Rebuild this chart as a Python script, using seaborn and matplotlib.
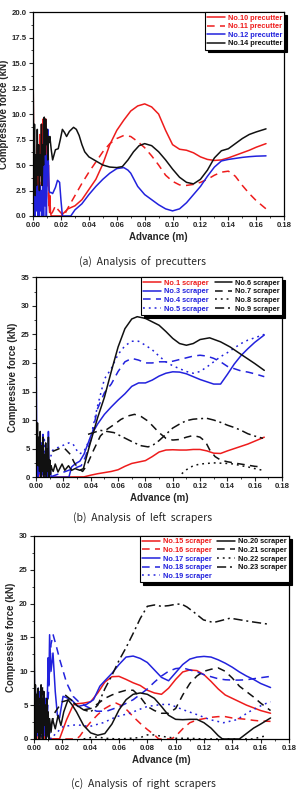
import matplotlib
matplotlib.use("Agg")
import matplotlib.pyplot as plt
import seaborn as sns
from matplotlib.ticker import AutoMinorLocator, FormatStrFormatter, MultipleLocator

# colours / line styles
RED = "#ee1c1c"
BLUE = "#2222dd"
BLACK = "#111111"
SOLID = "-"
DASH = (0, (5, 3.5))
DOT = (0, (1.2, 2.6))
DASHDOT = (0, (6, 2.5, 1.3, 2.5))

# ---------------- (a) precutters ----------------
a10_x = [0, 0.0005, 0.001, 0.0015, 0.002, 0.0025, 0.003, 0.0035, 0.004, 0.0045, 0.005, 0.0055, 0.006, 0.0065,
         0.007, 0.0075, 0.008, 0.0085, 0.009, 0.0095, 0.01, 0.0105, 0.011, 0.0115, 0.012, 0.0125, 0.013, 0.02,
         0.022, 0.025, 0.03, 0.035, 0.04, 0.045, 0.05, 0.055, 0.06, 0.065, 0.07, 0.075, 0.08, 0.085, 0.09, 0.095,
         0.1, 0.105, 0.11, 0.115, 0.12, 0.125, 0.13, 0.135, 0.14, 0.145, 0.15, 0.155, 0.16, 0.167]
a10_y = [14.5, 3.0, 6.0, 1.5, 5.5, 2.5, 7.0, 3.0, 6.5, 2.0, 8.0, 4.0, 9.0, 3.5,
         9.5, 5.0, 9.3, 6.0, 9.5, 5.5, 8.0, 3.0, 5.0, 1.0, 2.0, 0.3, 0, 0,
         0.3, 0.7, 1.0, 1.6, 2.6, 3.6, 5.1, 7.0, 8.4, 9.4, 10.3, 10.8, 11.0, 10.7, 10.0, 8.4,
         7.0, 6.55, 6.45, 6.2, 5.8, 5.55, 5.45, 5.5, 5.7, 5.95, 6.2, 6.45, 6.75, 7.1]

a11_x = [0, 0.0005, 0.001, 0.0015, 0.002, 0.003, 0.004, 0.005, 0.006, 0.007, 0.008, 0.009, 0.0095, 0.01,
         0.011, 0.012, 0.014, 0.016, 0.018, 0.02, 0.022, 0.025, 0.03, 0.035, 0.04, 0.045, 0.05, 0.055,
         0.06, 0.065, 0.07, 0.075, 0.08, 0.085, 0.09, 0.095, 0.1, 0.105, 0.11, 0.115, 0.12, 0.125, 0.13,
         0.135, 0.14, 0.145, 0.15, 0.155, 0.16, 0.167]
a11_y = [1.0, 6.0, 0.5, 4.0, 2.0, 6.5, 1.5, 7.5, 3.0, 9.0, 4.5, 9.5, 6.0, 8.5,
         2.0, 0.0, 0.4, 1.0, 0.6, 0.3, 0.0, 0.8, 2.0, 3.2, 4.3, 5.3, 6.3, 7.1,
         7.6, 7.9, 7.8, 7.3, 6.7, 5.9, 5.0, 4.0, 3.4, 3.05, 3.0, 3.1, 3.3, 3.6, 4.0,
         4.3, 4.4, 3.9, 3.0, 2.2, 1.5, 0.7]

a12_x = [0, 0.0005, 0.001, 0.0015, 0.002, 0.0025, 0.003, 0.0035, 0.004, 0.0045, 0.005, 0.0055, 0.006, 0.0065,
         0.007, 0.0075, 0.008, 0.0085, 0.009, 0.0095, 0.01, 0.0105, 0.011, 0.0115, 0.012, 0.013, 0.014, 0.016,
         0.0175, 0.019, 0.02, 0.021, 0.027, 0.03, 0.035, 0.04, 0.045, 0.05, 0.055, 0.06, 0.065, 0.068, 0.07,
         0.075, 0.08, 0.085, 0.09, 0.095, 0.1, 0.105, 0.11, 0.115, 0.12, 0.125, 0.13, 0.135, 0.14, 0.145,
         0.15, 0.155, 0.16, 0.167]
a12_y = [6.0, 1.0, 5.0, 0.0, 4.0, 0.5, 3.0, 0.0, 2.5, 0.0, 3.0, 0.5, 2.5, 0.0,
         5.0, 0.0, 8.0, 1.0, 6.0, 0.0, 3.0, 8.5, 5.0, 2.5, 2.3, 2.3, 2.2, 2.8,
         3.5, 3.3, 1.5, 0.0, 0.0, 0.6, 1.2, 2.1, 2.9, 3.6, 4.2, 4.65, 4.75, 4.5, 4.2,
         2.9, 2.1, 1.6, 1.1, 0.7, 0.5, 0.7, 1.3, 2.1, 2.9, 3.9, 4.8, 5.4, 5.55, 5.65,
         5.75, 5.82, 5.87, 5.9]

a14_x = [0, 0.0005, 0.001, 0.0015, 0.002, 0.0025, 0.003, 0.0035, 0.004, 0.0045, 0.005, 0.0055, 0.006, 0.0065,
         0.007, 0.0075, 0.008, 0.0085, 0.009, 0.0095, 0.01, 0.0105, 0.011, 0.0115, 0.012, 0.013, 0.014, 0.016,
         0.018, 0.0195, 0.021, 0.0225, 0.024, 0.026, 0.029, 0.031, 0.033, 0.035, 0.037, 0.04, 0.045, 0.05,
         0.055, 0.06, 0.064, 0.068, 0.072, 0.076, 0.08, 0.085, 0.09, 0.095, 0.1, 0.105, 0.11, 0.115, 0.12,
         0.125, 0.13, 0.135, 0.14, 0.145, 0.15, 0.155, 0.16, 0.167]
a14_y = [14.0, 4.0, 9.0, 2.0, 6.0, 3.0, 8.5, 4.0, 7.0, 2.5, 6.0, 4.0, 9.0, 3.0,
         7.0, 5.0, 9.7, 6.0, 9.5, 7.0, 8.5, 5.5, 7.8, 7.2, 7.8, 6.5, 5.5, 6.5,
         6.6, 7.5, 8.5, 8.2, 7.8, 8.3, 8.7, 8.5, 7.9, 7.0, 6.3, 5.8, 5.4, 5.0,
         4.8, 4.75, 4.85, 5.5, 6.3, 6.9, 7.1, 6.9, 6.3, 5.5, 4.6, 3.8, 3.3, 3.15, 3.6,
         4.5, 5.7, 6.4, 6.6, 7.1, 7.6, 8.0, 8.25, 8.55]

# ---------------- (b) left scrapers ----------------
b1_x = [0, 0.001, 0.002, 0.003, 0.004, 0.006, 0.008, 0.01, 0.035, 0.04, 0.045, 0.05, 0.055, 0.06, 0.065,
        0.07, 0.075, 0.08, 0.085, 0.09, 0.095, 0.1, 0.105, 0.11, 0.115, 0.12, 0.125, 0.13, 0.135, 0.14,
        0.145, 0.15, 0.155, 0.16, 0.167]
b1_y = [2.0, 0.5, 1.5, 0.0, 1.0, 0.0, 0.5, 0.0, 0.05, 0.35, 0.6, 0.8, 1.0, 1.3, 1.9,
        2.4, 2.65, 2.9, 3.6, 4.4, 4.75, 4.8, 4.75, 4.75, 4.85, 4.85, 4.6, 4.2, 4.15, 4.6,
        5.0, 5.4, 5.8, 6.3, 7.0]

b3_x = [0, 0.0005, 0.001, 0.0015, 0.002, 0.0025, 0.003, 0.0035, 0.004, 0.0045, 0.005, 0.0055, 0.006, 0.0065,
        0.007, 0.0075, 0.008, 0.0085, 0.009, 0.0095, 0.01, 0.011, 0.024, 0.026, 0.029, 0.032, 0.035, 0.04,
        0.045, 0.05, 0.055, 0.06, 0.065, 0.07, 0.075, 0.08, 0.085, 0.09, 0.095, 0.1, 0.105, 0.11, 0.115,
        0.12, 0.125, 0.13, 0.135, 0.14, 0.145, 0.15, 0.155, 0.16, 0.167]
b3_y = [25.0, 2.0, 7.0, 0.0, 5.0, 1.0, 6.0, 0.0, 3.0, 0.5, 7.5, 0.0, 4.0, 1.0,
        5.0, 0.0, 2.5, 0.0, 8.0, 0.5, 2.0, 0.0, 0.0, 1.8, 2.4, 2.8, 4.0, 7.2,
        9.3, 11.0, 12.3, 13.5, 14.6, 15.9, 16.5, 16.5, 17.0, 17.7, 18.2, 18.45, 18.4, 18.1, 17.6,
        17.1, 16.7, 16.3, 16.3, 18.0, 19.8, 21.3, 22.5, 23.6, 24.9]

b4_x = [0, 0.001, 0.002, 0.003, 0.004, 0.005, 0.006, 0.007, 0.008, 0.009, 0.01, 0.033, 0.036, 0.04, 0.045,
        0.05, 0.055, 0.06, 0.065, 0.07, 0.075, 0.08, 0.085, 0.09, 0.095, 0.1, 0.105, 0.11, 0.115, 0.12,
        0.125, 0.13, 0.135, 0.14, 0.145, 0.15, 0.155, 0.16, 0.167]
b4_y = [5.0, 0.5, 3.5, 0.0, 6.0, 1.0, 3.0, 0.0, 4.5, 0.5, 0.0, 2.0, 3.5, 6.5, 12.0,
        14.8, 16.3, 18.5, 20.2, 20.8, 20.5, 20.0, 20.0, 20.2, 20.2, 20.3, 20.6, 20.9, 21.2, 21.35,
        21.2, 20.8, 20.2, 19.4, 19.0, 18.6, 18.4, 18.1, 17.6]

b5_x = [0, 0.001, 0.002, 0.003, 0.004, 0.005, 0.006, 0.007, 0.008, 0.009, 0.01, 0.012, 0.016, 0.02, 0.024,
        0.027, 0.03, 0.032, 0.035, 0.04, 0.045, 0.05, 0.055, 0.06, 0.065, 0.07, 0.075, 0.08, 0.085, 0.09,
        0.095, 0.1, 0.105, 0.11, 0.115, 0.12, 0.125, 0.13, 0.135, 0.14, 0.145, 0.15, 0.155, 0.16, 0.167]
b5_y = [3.0, 0.0, 6.0, 1.0, 4.0, 0.0, 7.0, 2.0, 5.0, 0.5, 3.0, 4.7, 5.2, 5.6, 6.0,
        5.8, 4.6, 4.1, 4.5, 7.0, 12.5, 17.2, 19.0, 21.5, 23.0, 23.8, 23.8, 23.1, 22.3, 21.2,
        20.2, 19.5, 19.0, 18.5, 18.2, 18.5, 19.3, 20.2, 21.1, 21.8, 22.6, 23.4, 24.0, 24.4, 25.0]

b6_x = [0, 0.0005, 0.001, 0.0015, 0.002, 0.0025, 0.003, 0.0035, 0.004, 0.0045, 0.005, 0.0055, 0.006, 0.0065,
        0.007, 0.0075, 0.008, 0.0085, 0.009, 0.0095, 0.01, 0.0105, 0.011, 0.0115, 0.0125, 0.014, 0.016, 0.019,
        0.021, 0.0237, 0.026, 0.0285, 0.032, 0.0346, 0.0395, 0.045, 0.05, 0.055, 0.06, 0.065, 0.07, 0.074,
        0.08, 0.085, 0.09, 0.095, 0.1, 0.105, 0.11, 0.115, 0.12, 0.127, 0.135, 0.142, 0.15, 0.16, 0.167]
b6_y = [8.0, 3.0, 9.5, 2.0, 7.0, 1.0, 8.0, 0.0, 5.5, 1.0, 7.0, 0.0, 4.0, 0.5,
        6.0, 0.0, 5.0, 1.0, 7.0, 0.0, 3.0, 0.5, 2.0, 1.5, 1.0, 2.3, 0.9, 2.3,
        1.2, 2.0, 1.2, 1.5, 1.2, 1.5, 5.85, 10.4, 14.0, 18.5, 22.8, 26.0, 27.7, 28.1,
        27.8, 27.2, 26.6, 25.5, 24.3, 23.4, 23.1, 23.4, 24.1, 24.4, 23.7, 22.8, 21.5, 19.9, 18.7]

b7_x = [0.012, 0.017, 0.021, 0.025, 0.028, 0.031, 0.034, 0.037, 0.042, 0.047, 0.052, 0.057, 0.062, 0.067,
        0.072, 0.077, 0.082, 0.086, 0.09, 0.095, 0.1, 0.105, 0.11, 0.115, 0.12, 0.124, 0.127, 0.131, 0.135,
        0.14, 0.147, 0.155, 0.16, 0.165]
b7_y = [4.5, 5.0, 5.0, 4.0, 2.5, 1.5, 1.0, 2.0, 4.7, 7.2, 8.4, 9.2, 10.1, 10.7,
        11.0, 10.6, 9.8, 8.8, 7.8, 6.8, 6.5, 6.6, 7.0, 7.3, 7.0, 6.2, 4.8, 3.6, 3.0,
        2.7, 2.4, 2.1, 1.9, 1.8]

b8_x = [0.1066, 0.11, 0.115, 0.12, 0.125, 0.13, 0.135, 0.14, 0.145, 0.15, 0.155, 0.16, 0.166]
b8_y = [0.6, 1.3, 2.0, 2.3, 2.4, 2.5, 2.45, 2.4, 2.3, 2.0, 1.8, 1.5, 1.2]

b9_x = [0.038, 0.042, 0.047, 0.052, 0.057, 0.062, 0.067, 0.072, 0.077, 0.082, 0.086, 0.09, 0.095, 0.1,
        0.105, 0.11, 0.115, 0.12, 0.125, 0.13, 0.135, 0.14, 0.145, 0.15, 0.155, 0.16, 0.166]
b9_y = [7.5, 7.8, 8.2, 8.0, 7.8, 7.2, 6.6, 6.0, 5.5, 5.3, 5.7, 6.4, 7.5, 8.6,
        9.3, 9.9, 10.15, 10.25, 10.3, 10.0, 9.6, 9.1, 8.7, 8.2, 7.6, 7.2, 6.8]

# ---------------- (c) right scrapers ----------------
c15_x = [0, 0.0005, 0.001, 0.0015, 0.002, 0.003, 0.0035, 0.004, 0.005, 0.006, 0.007, 0.008, 0.009, 0.01,
         0.011, 0.018, 0.023, 0.0276, 0.03, 0.035, 0.04, 0.045, 0.05, 0.055, 0.06, 0.065, 0.07, 0.075, 0.08,
         0.085, 0.09, 0.095, 0.1, 0.105, 0.11, 0.115, 0.12, 0.125, 0.13, 0.135, 0.14, 0.145, 0.15, 0.155,
         0.16, 0.167]
c15_y = [2.0, 6.0, 1.0, 5.0, 0.0, 4.0, 0.5, 7.0, 1.0, 5.0, 0.0, 3.0, 0.5, 2.0,
         0.0, 0.0, 2.85, 5.0, 5.2, 5.3, 5.5, 6.8, 8.4, 9.2, 9.25, 8.8, 8.3, 7.9, 7.2,
         6.8, 6.6, 7.5, 8.8, 9.9, 10.2, 10.1, 9.5, 8.5, 7.4, 6.5, 6.0, 5.5, 5.0, 4.6,
         4.2, 3.8]

c16_x = [0, 0.001, 0.002, 0.003, 0.004, 0.005, 0.006, 0.007, 0.008, 0.009, 0.01, 0.011, 0.03, 0.0323,
         0.036, 0.04, 0.045, 0.05, 0.055, 0.058, 0.062, 0.066, 0.07, 0.075, 0.08, 0.085, 0.088, 0.097,
         0.1, 0.105, 0.11, 0.115, 0.12, 0.125, 0.13, 0.135, 0.14, 0.145, 0.15, 0.155, 0.16, 0.167]
c16_y = [3.0, 6.5, 1.0, 5.0, 0.0, 7.2, 1.5, 6.0, 0.0, 4.0, 0.5, 0.0, 0.0, 0.4,
         1.5, 2.5, 3.6, 4.5, 5.1, 5.3, 4.9, 4.2, 3.3, 2.3, 1.4, 0.6, 0.0, 0.0,
         0.4, 1.5, 2.4, 2.8, 3.0, 3.2, 3.3, 3.3, 3.1, 3.0, 2.9, 2.75, 2.65, 2.6]

c17_x = [0, 0.0005, 0.001, 0.0015, 0.002, 0.0025, 0.003, 0.0035, 0.004, 0.0045, 0.005, 0.006, 0.007, 0.0075,
         0.008, 0.009, 0.01, 0.0105, 0.011, 0.012, 0.0134, 0.015, 0.0165, 0.018, 0.0205, 0.023, 0.0264, 0.031,
         0.037, 0.042, 0.0465, 0.05, 0.055, 0.06, 0.065, 0.07, 0.075, 0.08, 0.085, 0.09, 0.095, 0.1, 0.105,
         0.11, 0.115, 0.12, 0.125, 0.13, 0.135, 0.14, 0.145, 0.15, 0.155, 0.16, 0.167]
c17_y = [15.0, 2.0, 7.0, 0.5, 6.0, 1.0, 7.5, 0.0, 5.0, 1.5, 6.5, 0.0, 4.0, 1.0,
         6.0, 2.0, 12.0, 8.0, 15.4, 10.0, 12.7, 7.0, 3.5, 3.1, 6.3, 6.1, 5.8, 4.8,
         5.1, 5.8, 7.8, 8.6, 9.7, 11.0, 12.1, 12.25, 11.9, 11.3, 10.2, 9.1, 8.6, 9.8, 11.0,
         11.8, 12.1, 12.2, 12.1, 11.7, 11.2, 10.6, 9.9, 9.3, 8.8, 8.2, 7.6]

c18_x = [0, 0.001, 0.002, 0.003, 0.004, 0.005, 0.006, 0.007, 0.008, 0.009, 0.01, 0.011, 0.012, 0.0135,
         0.016, 0.0182, 0.023, 0.0276, 0.032, 0.037, 0.0442, 0.0512, 0.0607, 0.07, 0.0795, 0.085, 0.09,
         0.095, 0.1, 0.105, 0.11, 0.115, 0.12, 0.125, 0.13, 0.135, 0.14, 0.145, 0.15, 0.155, 0.16, 0.167]
c18_y = [5.0, 1.0, 6.0, 0.0, 7.0, 2.0, 6.0, 0.5, 5.0, 1.0, 6.0, 10.0, 14.0, 15.4,
         13.5, 11.7, 8.3, 6.3, 5.4, 4.8, 4.1, 4.1, 4.8, 5.8, 7.3, 8.4, 9.3,
         10.0, 10.4, 10.5, 10.2, 9.9, 9.5, 9.2, 8.9, 8.75, 8.7, 8.7, 8.75, 8.9, 9.05, 9.25]

c19_x = [0, 0.001, 0.002, 0.003, 0.004, 0.005, 0.006, 0.007, 0.008, 0.009, 0.01, 0.012, 0.0135, 0.0205,
         0.03, 0.0394, 0.0488, 0.0583, 0.0677, 0.0748, 0.08, 0.09, 0.096, 0.1055, 0.115, 0.1243, 0.1338,
         0.1432, 0.1526, 0.162, 0.167]
c19_y = [6.0, 0.0, 4.0, 1.0, 5.0, 0.0, 3.0, 0.5, 6.0, 0.0, 2.0, 0.0, 0.4, 1.85,
         2.1, 1.85, 2.4, 3.3, 3.8, 4.4, 4.8, 5.1, 5.1, 4.3, 3.6, 2.85, 2.4,
         2.85, 4.1, 5.1, 5.5]

c20_x = [0, 0.0005, 0.001, 0.0015, 0.002, 0.0025, 0.003, 0.0035, 0.004, 0.0045, 0.005, 0.0055, 0.006, 0.0065,
         0.007, 0.0075, 0.008, 0.0085, 0.009, 0.0095, 0.01, 0.0105, 0.011, 0.012, 0.013, 0.015, 0.017, 0.019,
         0.021, 0.024, 0.027, 0.03, 0.035, 0.04, 0.045, 0.05, 0.055, 0.06, 0.065, 0.07, 0.075, 0.08, 0.085,
         0.09, 0.095, 0.1, 0.105, 0.11, 0.115, 0.12, 0.125, 0.13, 0.133, 0.145, 0.15, 0.155, 0.16, 0.167]
c20_y = [22.0, 3.0, 8.0, 0.0, 6.0, 1.0, 7.5, 0.0, 5.0, 0.5, 8.0, 1.0, 6.0, 0.0,
         7.0, 2.0, 5.0, 0.0, 6.0, 1.0, 4.0, 0.0, 3.0, 1.0, 3.0, 1.5, 3.5, 2.0,
         4.0, 5.8, 5.0, 4.0, 2.0, 0.9, 0.55, 0.8, 2.2, 4.3, 5.8, 6.6, 6.8, 6.6, 6.0,
         4.8, 3.5, 2.9, 2.85, 2.9, 2.9, 2.4, 1.6, 0.5, 0.0, 0.0, 0.8, 1.6, 2.2, 3.1]

c21_x = [0, 0.001, 0.002, 0.003, 0.004, 0.005, 0.006, 0.007, 0.008, 0.009, 0.01, 0.012, 0.015, 0.02, 0.025,
         0.03, 0.035, 0.04, 0.045, 0.05, 0.055, 0.06, 0.065, 0.07, 0.075, 0.08, 0.085, 0.09, 0.095, 0.1,
         0.105, 0.11, 0.115, 0.12, 0.125, 0.13, 0.135, 0.14, 0.145, 0.15, 0.155, 0.16, 0.167]
c21_y = [4.0, 0.0, 7.0, 1.0, 6.0, 0.0, 7.8, 2.0, 5.0, 0.0, 3.0, 2.0, 4.0, 5.5, 5.8,
         5.0, 4.3, 4.5, 5.2, 6.0, 6.5, 6.9, 7.2, 7.2, 6.2, 4.8, 4.2, 3.8, 3.8, 4.5,
         6.5, 8.2, 9.3, 10.0, 10.3, 10.5, 10.0, 9.0, 7.8, 7.0, 6.2, 5.3, 4.2]

c22_x = [0.035, 0.04, 0.045, 0.05, 0.06, 0.075, 0.08, 0.085, 0.09, 0.1, 0.11, 0.12, 0.155, 0.16, 0.165]
c22_y = [0.0, 0.2, 0.3, 0.1, 0.0, 0.2, 0.6, 0.6, 0.4, 0.1, 0.1, 0.0, 0.0, 0.3, 0.5]

c23_x = [0.022, 0.026, 0.03, 0.035, 0.04, 0.045, 0.05, 0.055, 0.06, 0.065, 0.07, 0.075, 0.08, 0.085, 0.09,
         0.095, 0.1, 0.104, 0.108, 0.1125, 0.1196, 0.1267, 0.1385, 0.1526, 0.1656]
c23_y = [6.5, 5.8, 5.0, 4.3, 4.0, 5.0, 7.4, 9.4, 11.6, 13.5, 15.6, 17.8, 19.6, 19.8, 19.6,
         19.7, 19.9, 19.95, 19.5, 18.8, 17.6, 17.2, 17.85, 17.35, 16.96]

panel_a = [("No.10 precutter", a10_x, a10_y, RED, SOLID),
           ("No.11 precutter", a11_x, a11_y, RED, DASH),
           ("No.12 precutter", a12_x, a12_y, BLUE, SOLID),
           ("No.14 precutter", a14_x, a14_y, BLACK, SOLID)]
panel_b = [("No.1 scraper", b1_x, b1_y, RED, SOLID),
           ("No.3 scraper", b3_x, b3_y, BLUE, SOLID),
           ("No.4 scraper", b4_x, b4_y, BLUE, DASH),
           ("No.5 scraper", b5_x, b5_y, BLUE, DOT),
           ("No.6 scraper", b6_x, b6_y, BLACK, SOLID),
           ("No.7 scraper", b7_x, b7_y, BLACK, DASH),
           ("No.8 scraper", b8_x, b8_y, BLACK, DOT),
           ("No.9 scraper", b9_x, b9_y, BLACK, DASHDOT)]
panel_c = [("No.15 scraper", c15_x, c15_y, RED, SOLID),
           ("No.16 scraper", c16_x, c16_y, RED, DASH),
           ("No.17 scraper", c17_x, c17_y, BLUE, SOLID),
           ("No.18 scraper", c18_x, c18_y, BLUE, DASH),
           ("No.19 scraper", c19_x, c19_y, BLUE, DOT),
           ("No.20 scraper", c20_x, c20_y, BLACK, SOLID),
           ("No.21 scraper", c21_x, c21_y, BLACK, DASH),
           ("No.22 scraper", c22_x, c22_y, BLACK, DOT),
           ("No.23 scraper", c23_x, c23_y, BLACK, DASHDOT)]

sns.set_style("ticks")
plt.rcParams["font.family"] = ["Liberation Sans", "DejaVu Sans"]
plt.rcParams["font.weight"] = "bold"


def draw_panel(ax, series, ymax, ystep, yfmt, ncol):
    for label, xs, ys, color, ls in series:
        sns.lineplot(x=xs, y=ys, ax=ax, color=color, linestyle=ls, linewidth=1.1,
                     estimator=None, sort=False, label=label)
    ax.set_xlim(0, 0.18)
    ax.set_ylim(0, ymax)
    ax.xaxis.set_major_locator(MultipleLocator(0.02))
    ax.xaxis.set_major_formatter(FormatStrFormatter("%.2f"))
    ax.yaxis.set_major_locator(MultipleLocator(ystep))
    ax.yaxis.set_major_formatter(FormatStrFormatter(yfmt))
    ax.xaxis.set_minor_locator(AutoMinorLocator(2))
    ax.yaxis.set_minor_locator(AutoMinorLocator(2))
    ax.tick_params(which="major", direction="out", length=3, width=0.8, labelsize=5.6, pad=1.5)
    ax.tick_params(which="minor", direction="out", length=1.6, width=0.6)
    for lab in ax.get_xticklabels() + ax.get_yticklabels():
        lab.set_fontweight("bold")
    for sp in ax.spines.values():
        sp.set_visible(True)
        sp.set_linewidth(0.9)
        sp.set_color("black")
    ax.set_xlabel("Advance (m)", fontsize=7, fontweight="bold", labelpad=2)
    ax.set_ylabel("Compressive force (kN)", fontsize=7, fontweight="bold", labelpad=2)
    handles, labels = ax.get_legend_handles_labels()
    leg = ax.legend(handles, labels, loc="upper right", bbox_to_anchor=(1, 1), borderaxespad=0,
                    ncol=ncol, fontsize=5.3, handlelength=2.4, handletextpad=0.4, labelspacing=0.2,
                    borderpad=0.3, columnspacing=0.8, fancybox=False, framealpha=1, edgecolor="black",
                    labelcolor="linecolor", shadow={"color": "black", "alpha": 1})
    leg.get_frame().set_linewidth(0.8)
    for t in leg.get_texts():
        t.set_fontweight("bold")


fig = plt.figure(figsize=(3.01, 7.90), dpi=100)
ax_a = fig.add_axes([0.110, 0.7266, 0.834, 0.258])
ax_b = fig.add_axes([0.120, 0.396, 0.817, 0.253])
ax_c = fig.add_axes([0.113, 0.0646, 0.847, 0.257])

draw_panel(ax_a, panel_a, 20, 2.5, "%.1f", 1)
draw_panel(ax_b, panel_b, 35, 5, "%d", 2)
draw_panel(ax_c, panel_c, 30, 5, "%d", 2)

cap_kw = dict(ha="center", va="center", fontsize=7.5, fontweight="normal",
              family=["Noto Sans CJK KR", "DejaVu Sans"])
fig.text(0.475, 0.668, "(a)  Analysis  of  precutters", **cap_kw)
fig.text(0.475, 0.344, "(b)  Analysis  of  left  scrapers", **cap_kw)
fig.text(0.475, 0.007, "(c)  Analysis  of  right  scrapers", **cap_kw)

fig.savefig("out.png", dpi=100)
